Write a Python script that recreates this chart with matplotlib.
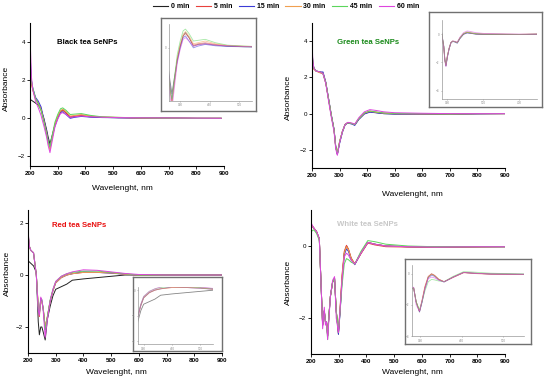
import matplotlib
matplotlib.use("Agg")
import matplotlib.pyplot as plt
from matplotlib.lines import Line2D

plt.rcParams['font.family'] = ['Liberation Sans', 'DejaVu Sans']

W, H = 550, 383

times = ["0 min", "5 min", "15 min", "30 min", "45 min", "60 min"]
colors = ["#222222", "#e8413c", "#3b3bd6", "#f0a050", "#5cd65c", "#de45de"]

# Black tea SeNPs
black_wl = [200, 205, 210, 220, 230, 240, 250, 260, 265, 272, 280, 290, 300, 310, 318, 330,
            345, 360, 385, 420, 460, 520, 600, 700, 800, 890]
black_0 = [1.0, 0.95, 0.9, 0.8, 0.7, 0.45, 0.0, -0.6, -0.95, -1.35, -0.9, -0.35, 0.05, 0.35, 0.45, 0.3,
           0.05, 0.1, 0.12, 0.08, 0.05, 0.03, 0.02, 0.01, 0.0, 0.0]
black_5 = [2.4, 1.8, 1.5, 1.05, 0.8, 0.5, -0.1, -0.75, -1.15, -1.6, -1.0, -0.35, 0.05, 0.35, 0.42, 0.3,
           0.08, 0.12, 0.15, 0.1, 0.06, 0.04, 0.02, 0.01, 0.0, 0.0]
black_15 = [3.5, 2.0, 1.6, 1.1, 0.9, 0.6, -0.05, -0.7, -1.1, -1.55, -1.0, -0.4, 0.0, 0.3, 0.35, 0.2,
            0.0, 0.05, 0.1, 0.06, 0.04, 0.03, 0.02, 0.01, 0.0, 0.0]
black_30 = [2.5, 1.9, 1.5, 1.0, 0.75, 0.45, -0.15, -0.8, -1.2, -1.65, -1.05, -0.3, 0.1, 0.4, 0.48, 0.35,
            0.12, 0.15, 0.2, 0.12, 0.07, 0.05, 0.02, 0.01, 0.0, 0.0]
black_45 = [3.0, 2.0, 1.6, 1.05, 0.75, 0.4, -0.2, -0.85, -1.2, -1.5, -0.9, -0.2, 0.2, 0.5, 0.55, 0.42,
            0.2, 0.22, 0.25, 0.15, 0.08, 0.05, 0.03, 0.01, 0.0, 0.0]
black_60 = [4.4, 2.2, 1.5, 0.9, 0.55, 0.15, -0.4, -1.0, -1.4, -1.8, -1.2, -0.45, -0.05, 0.25, 0.3, 0.2,
            0.05, 0.08, 0.12, 0.08, 0.06, 0.04, 0.03, 0.02, 0.01, 0.0]

# Green tea SeNPs
green_wl = [200, 203, 207, 215, 230, 240, 250, 260, 270, 280, 286, 292, 300, 310, 320, 330,
            345, 355, 370, 390, 410, 430, 460, 500, 600, 700, 800, 900]
green_0 = [3.6, 2.8, 2.5, 2.35, 2.3, 2.2, 1.7, 0.8, -0.1, -0.9, -1.8, -2.25, -1.6, -1.0, -0.6, -0.5,
           -0.55, -0.62, -0.3, 0.0, 0.1, 0.06, 0.0, -0.02, -0.02, -0.03, -0.01, 0.0]
green_5 = [3.5, 2.7, 2.45, 2.35, 2.25, 2.25, 1.7, 0.8, -0.1, -0.9, -1.85, -2.2, -1.55, -1.0, -0.6, -0.5,
           -0.55, -0.6, -0.28, 0.02, 0.12, 0.08, 0.02, 0.0, -0.01, -0.02, 0.0, 0.0]
green_15 = [3.6, 2.8, 2.5, 2.35, 2.3, 2.3, 1.75, 0.85, -0.05, -0.85, -1.8, -2.25, -1.65, -1.05, -0.62, -0.52,
            -0.58, -0.65, -0.32, -0.02, 0.08, 0.05, 0.0, -0.02, -0.02, -0.03, -0.01, 0.0]
green_30 = [3.5, 2.7, 2.45, 2.35, 2.25, 2.2, 1.7, 0.8, -0.1, -0.9, -1.85, -2.2, -1.55, -1.0, -0.6, -0.5,
            -0.55, -0.6, -0.28, 0.03, 0.13, 0.08, 0.03, 0.0, -0.01, -0.02, 0.0, 0.0]
green_45 = [3.7, 2.8, 2.5, 2.35, 2.3, 2.2, 1.7, 0.8, -0.1, -0.9, -1.85, -2.2, -1.55, -1.0, -0.6, -0.5,
            -0.55, -0.6, -0.27, 0.04, 0.15, 0.1, 0.04, 0.01, 0.0, -0.02, 0.0, 0.0]
green_60 = [4.1, 2.9, 2.5, 2.35, 2.3, 2.2, 1.65, 0.7, -0.2, -1.0, -1.95, -2.3, -1.6, -1.0, -0.6, -0.48,
            -0.52, -0.58, -0.22, 0.1, 0.22, 0.18, 0.1, 0.05, 0.02, 0.0, 0.0, 0.0]

# Red tea SeNPs
red_wl = [200, 205, 210, 220, 230, 237, 241, 246, 250, 255, 262, 270, 280, 290, 300, 320,
          340, 360, 400, 450, 500, 550, 600, 700, 800, 900]
red_0 = [0.55, 0.5, 0.45, 0.35, 0.1, -1.8, -2.3, -2.0, -2.0, -2.2, -2.5, -1.7, -1.2, -0.8, -0.55, -0.45,
         -0.35, -0.2, -0.15, -0.1, -0.05, 0.0, 0.0, 0.0, 0.0, 0.0]
red_5 = [1.6, 1.1, 0.95, 0.85, 0.0, -1.2, -1.6, -0.95, -1.0, -1.3, -2.0, -1.6, -1.0, -0.6, -0.3, -0.1,
         0.0, 0.05, 0.1, 0.1, 0.08, 0.03, 0.0, 0.0, 0.0, 0.0]
red_15 = [1.6, 1.1, 0.95, 0.85, 0.0, -1.3, -1.5, -0.9, -1.0, -1.3, -2.1, -1.65, -1.0, -0.6, -0.3, -0.1,
          0.0, 0.05, 0.12, 0.1, 0.07, 0.03, 0.0, 0.0, 0.0, 0.0]
red_30 = [1.6, 1.1, 0.95, 0.85, 0.0, -1.2, -1.4, -1.0, -1.05, -1.3, -2.0, -1.6, -1.0, -0.6, -0.3, -0.1,
          0.0, 0.05, 0.1, 0.1, 0.08, 0.03, 0.0, 0.0, 0.0, 0.0]
red_45 = [1.7, 1.1, 0.95, 0.85, 0.0, -1.3, -1.5, -0.9, -0.95, -1.3, -2.1, -1.6, -0.95, -0.55, -0.25, -0.05,
          0.05, 0.1, 0.15, 0.15, 0.1, 0.05, 0.0, 0.0, 0.0, 0.0]
red_60 = [1.75, 1.1, 0.95, 0.85, 0.0, -1.35, -1.55, -0.85, -0.95, -1.4, -2.4, -1.7, -1.0, -0.55, -0.25, -0.05,
          0.05, 0.12, 0.2, 0.18, 0.12, 0.06, 0.02, 0.0, 0.0, 0.0]

# White tea SeNPs
white_wl = [200, 210, 220, 230, 236, 242, 248, 252, 256, 260, 265, 270, 278, 285, 291, 299,
            305, 312, 320, 328, 335, 345, 358, 380, 405, 430, 470, 550, 650, 800, 900]
white_0 = [0.6, 0.5, 0.4, 0.2, -1.0, -2.2, -1.8, -2.1, -2.1, -2.5, -1.9, -1.4, -1.0, -0.9, -1.8, -2.45,
           -1.8, -0.9, -0.2, 0.0, -0.1, -0.35, -0.5, -0.2, 0.1, 0.05, 0.0, -0.02, -0.03, -0.02, -0.02]
white_5 = [0.6, 0.5, 0.4, 0.2, -1.0, -2.2, -1.8, -2.1, -2.1, -2.5, -1.9, -1.4, -1.0, -0.9, -1.8, -2.4,
           -1.7, -0.8, -0.15, 0.02, -0.08, -0.33, -0.5, -0.22, 0.08, 0.03, -0.02, -0.03, -0.04, -0.03, -0.02]
white_15 = [0.6, 0.5, 0.4, 0.2, -1.0, -2.2, -1.8, -2.1, -2.1, -2.5, -1.9, -1.4, -1.0, -0.9, -1.8, -2.45,
            -1.85, -0.95, -0.25, -0.08, -0.15, -0.38, -0.52, -0.2, 0.1, 0.05, 0.0, -0.02, -0.03, -0.02, -0.02]
white_30 = [0.6, 0.5, 0.4, 0.2, -1.0, -2.2, -1.8, -2.1, -2.1, -2.5, -1.9, -1.4, -1.0, -0.9, -1.8, -2.4,
            -1.75, -0.85, -0.2, -0.02, -0.1, -0.35, -0.5, -0.2, 0.1, 0.05, 0.0, -0.02, -0.03, -0.02, -0.02]
white_45 = [0.4, 0.45, 0.35, 0.15, -1.0, -2.2, -1.8, -2.1, -2.1, -2.6, -1.9, -1.4, -1.0, -0.9, -1.8, -2.3,
            -1.8, -1.1, -0.5, -0.35, -0.38, -0.45, -0.5, -0.15, 0.15, 0.12, 0.05, 0.0, -0.02, -0.02, -0.02]
white_60 = [0.65, 0.5, 0.4, 0.2, -1.0, -2.3, -1.7, -2.2, -2.1, -2.6, -2.0, -1.4, -0.95, -0.85, -2.0, -2.4,
            -1.75, -0.95, -0.3, -0.2, -0.25, -0.4, -0.5, -0.2, 0.1, 0.05, 0.0, -0.02, -0.03, -0.02, -0.02]


def rect(x0, y0, x1, y1):
    """pixel box (top-left origin) -> figure fraction rect"""
    return [x0 / W, 1 - y1 / H, (x1 - x0) / W, (y1 - y0) / H]


panels = [
    dict(title="Black tea SeNPs", tcolor="black", wl=black_wl,
         series=[black_0, black_5, black_15, black_30, black_45, black_60],
         box=(30, 23, 224, 166), ylim=(-2.5, 5), yticks=[-2, 0, 2, 4], tpos=(57, 43),
         ylab=(6, 88), xlab=(122, 188),
         ibox=(161, 18, 256, 111), iax=(169, 24, 252, 101),
         ixlim=(262, 544), iylim=(-1.56, 0.7), ixt=[300, 400, 500], iyt=[0]),
    dict(title="Green tea SeNPs", tcolor="#1a8a1a", wl=green_wl,
         series=[green_0, green_5, green_15, green_30, green_45, green_60],
         box=(312, 23, 505, 168), ylim=(-3, 5), yticks=[-2, 0, 2, 4], tpos=(337, 43),
         ylab=(288, 97), xlab=(412, 195),
         ibox=(429, 12, 542, 107), iax=(442, 20, 537, 99),
         ixlim=(270, 800), iylim=(-4.6, 1.0), ixt=[300, 500, 700], iyt=[-4, -2, 0]),
    dict(title="Red tea SeNPs", tcolor="#e81010", wl=red_wl,
         series=[red_0, red_5, red_15, red_30, red_45, red_60],
         box=(28, 210, 222, 353), ylim=(-3, 2.5), yticks=[-2, 0, 2], tpos=(52, 226),
         ylab=(7, 273), xlab=(116, 373),
         ibox=(133, 277, 222, 351), iax=(138, 287, 213, 344),
         ixlim=(280, 545), iylim=(-2.1, 0.12), ixt=[300, 400, 500], iyt=[-2, -1, 0]),
    dict(title="White tea SeNPs", tcolor="#c8c8c8", wl=white_wl,
         series=[white_0, white_5, white_15, white_30, white_45, white_60],
         box=(311, 210, 505, 354), ylim=(-3, 1), yticks=[-2, 0], tpos=(337, 224),
         ylab=(288, 282), xlab=(412, 373),
         ibox=(405, 259, 531, 344), iax=(412, 265, 524, 336),
         ixlim=(281, 550), iylim=(-4, 0.58), ixt=[300, 400, 500], iyt=[-4, -2, 0]),
]

fig = plt.figure(figsize=(W / 100, H / 100), dpi=100)

for p in panels:
    ax = fig.add_axes(rect(*p["box"]))
    for vals, c in zip(p["series"], colors):
        ax.plot(p["wl"], vals, color=c, lw=0.7)
    ax.set_xlim(200, 900)
    ax.set_ylim(*p["ylim"])
    ax.set_xticks(range(200, 901, 100))
    ax.set_yticks(p["yticks"])
    ax.spines[["top", "right"]].set_visible(False)
    for s in ("left", "bottom"):
        ax.spines[s].set_linewidth(0.8)
    ax.tick_params(axis="both", labelsize=4.5, length=2, width=0.6, pad=1.5)
    for lab in ax.get_xticklabels():
        lab.set_fontweight("bold")
    fig.text(p["tpos"][0] / W, 1 - p["tpos"][1] / H, p["title"], color=p["tcolor"],
             fontsize=5.6, fontweight="bold", va="center", ha="left")
    fig.text(p["ylab"][0] / W, 1 - p["ylab"][1] / H, "Absorbance", rotation=90,
             fontsize=6, va="center", ha="center")
    fig.text(p["xlab"][0] / W, 1 - p["xlab"][1] / H, "Wavelenght, nm",
             fontsize=6, va="center", ha="center")

    # inset: grey frame plus a small zoomed plot
    frame = fig.add_axes(rect(*p["ibox"]))
    frame.set_xticks([])
    frame.set_yticks([])
    frame.patch.set_facecolor("white")
    for s in frame.spines.values():
        s.set_color("#707070")
        s.set_linewidth(1.0)
    iax = fig.add_axes(rect(*p["iax"]))
    iax.patch.set_alpha(0)
    for vals, c in zip(p["series"], colors):
        iax.plot(p["wl"], vals, color=c, lw=0.6, alpha=0.55)
    iax.set_xlim(*p["ixlim"])
    iax.set_ylim(*p["iylim"])
    iax.set_xticks(p["ixt"])
    iax.set_yticks(p["iyt"])
    iax.spines[["top", "right"]].set_visible(False)
    for s in ("left", "bottom"):
        iax.spines[s].set_color("#999999")
        iax.spines[s].set_linewidth(0.5)
    iax.tick_params(axis="both", labelsize=2.2, length=1, width=0.4, pad=0.8,
                    colors="#888888")

handles = [Line2D([], [], color=c, lw=0.8) for c in colors]
fig.legend(handles, times, loc="upper center", bbox_to_anchor=(286 / W, 1.0), ncol=6,
           frameon=False, prop={"size": 5, "weight": "bold"}, handlelength=2.2,
           handletextpad=0.4, columnspacing=0.9, borderaxespad=0.1)

fig.savefig("out.png", dpi=100)
